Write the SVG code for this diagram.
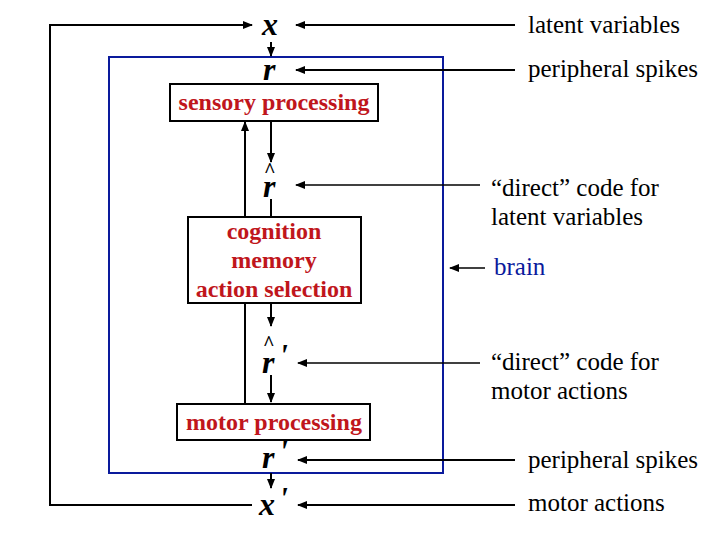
<svg xmlns="http://www.w3.org/2000/svg" width="720" height="540" viewBox="0 0 720 540">
<style>
.v{font-family:"Liberation Serif",serif;font-style:italic;font-weight:bold;font-size:32px;fill:#000}
.h{font-family:"Liberation Serif",serif;font-weight:bold;font-size:20px;fill:#000}
.l{font-family:"Liberation Serif",serif;font-size:25px;fill:#000}
.r{font-family:"Liberation Serif",serif;font-weight:bold;font-size:24px;fill:#c0161c;text-anchor:middle}
.box{fill:#fff;stroke:#000;stroke-width:2}
.c{fill:none;stroke:#000;stroke-width:2;marker-end:url(#a)}
.n{fill:none;stroke:#000;stroke-width:2}
.t{fill:none;stroke:#000;stroke-width:1.5;marker-end:url(#a)}
</style>
<defs><marker id="a" markerWidth="10" markerHeight="8" refX="9" refY="4" orient="auto" markerUnits="userSpaceOnUse"><path d="M0,0 L10,4 L0,8 z" fill="#000"/></marker></defs>
<rect x="109" y="57" width="334" height="416" fill="none" stroke="#0a1a9c" stroke-width="2"/>
<g id="connectors">
<path class="c" d="M252,505 H50 V25 H252"/>
<path class="c" d="M271,42 V56"/>
<path class="c" d="M271,121 V162"/>
<path class="c" d="M245,405 V122"/>
<path class="n" d="M271,199 V217"/>
<path class="c" d="M271,303 V326"/>
<path class="c" d="M271,375 V402"/>
<path class="c" d="M271,473 V488"/>
<path class="c" d="M515,25 H296"/>
<path class="c" d="M515,70 H296"/>
<path class="t" d="M480,185 H296"/>
<path class="t" d="M485,268 H450"/>
<path class="t" d="M480,363 H298"/>
<path class="c" d="M515,460 H298"/>
<path class="c" d="M515,505 H298"/>
</g>
<g id="sensory"><rect class="box" x="170" y="84" width="208" height="37"/><text class="r" x="274" y="110">sensory processing</text></g>
<g id="cognition"><rect class="box" x="188" y="217" width="173" height="86"/><text class="r" x="274" y="239">cognition</text><text class="r" x="274" y="268">memory</text><text class="r" x="274" y="297">action selection</text></g>
<g id="motor"><rect class="box" x="177" y="404" width="193" height="36"/><text class="r" x="274" y="430">motor processing</text></g>
<g id="vars">
<text class="v" x="262" y="35">x</text>
<text class="v" x="263" y="80">r</text>
<text class="h" x="264" y="177">^</text><text class="v" x="263" y="197">r</text>
<text class="h" x="263" y="350">^</text><text class="v" x="262" y="373">r</text><text class="v" x="279" y="366" font-size="24">'</text>
<text class="v" x="262" y="468">r</text><text class="v" x="279" y="462" font-size="24">'</text>
<text class="v" x="259" y="515">x</text><text class="v" x="279" y="509" font-size="24">'</text>
</g>
<g id="labels">
<text class="l" x="528" y="33">latent variables</text>
<text class="l" x="528" y="77">peripheral spikes</text>
<text class="l" x="491" y="196">“direct” code for</text>
<text class="l" x="491" y="225">latent variables</text>
<text class="l" x="494" y="275" style="fill:#0a1a9c">brain</text>
<text class="l" x="491" y="370">“direct” code for</text>
<text class="l" x="491" y="399">motor actions</text>
<text class="l" x="528" y="468">peripheral spikes</text>
<text class="l" x="528" y="511">motor actions</text>
</g>
</svg>
